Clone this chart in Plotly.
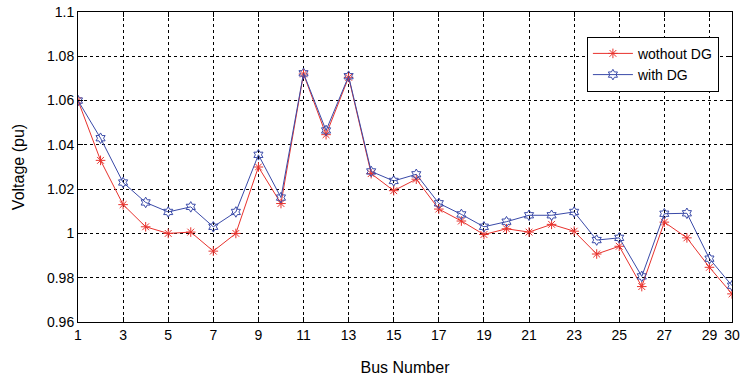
import plotly.graph_objects as go

bus = list(range(1, 31))
v_without_dg = [1.060, 1.033, 1.013, 1.003, 1.000, 1.0006, 0.992, 1.000, 1.030, 1.0135,
                1.072, 1.0446, 1.0705, 1.027, 1.0193, 1.0245, 1.011, 1.0056, 0.9995, 1.0021,
                1.0006, 1.0041, 1.0010, 0.9907, 0.9942, 0.976, 1.0051, 0.998, 0.9847, 0.9727]
v_with_dg = [1.060, 1.043, 1.023, 1.014, 1.0097, 1.012, 1.003, 1.0097, 1.0355, 1.0162,
             1.0723, 1.0465, 1.071, 1.028, 1.0237, 1.0267, 1.0136, 1.0086, 1.003, 1.0053,
             1.0082, 1.0082, 1.0097, 0.997, 0.998, 0.9806, 1.0089, 1.0091, 0.9886, 0.9764]
x_ticks = [1, 3, 5, 7, 9, 11, 13, 15, 17, 19, 21, 23, 25, 27, 29, 30]
y_ticks = [0.96, 0.98, 1.0, 1.02, 1.04, 1.06, 1.08, 1.1]
y_tick_text = ["0.96", "0.98", "1", "1.02", "1.04", "1.06", "1.08", "1.1"]

red = "#e8322d"
blue = "#3a4aa8"

fig = go.Figure()
fig.add_trace(go.Scatter(
    x=bus, y=v_without_dg, mode="lines+markers", name="wothout DG",
    line=dict(color=red, width=1),
    marker=dict(symbol="asterisk-open", size=8, color=red, line=dict(color=red, width=1)),
))
fig.add_trace(go.Scatter(
    x=bus, y=v_with_dg, mode="lines+markers", name="with DG",
    line=dict(color=blue, width=1),
    marker=dict(symbol="hexagram-open", size=8, color=blue, line=dict(color=blue, width=1)),
))

font = "Liberation Sans, Arial, Helvetica, sans-serif"
fig.update_layout(
    width=742, height=377,
    margin=dict(l=78, r=10, t=12, b=55),
    paper_bgcolor="white", plot_bgcolor="white",
    font=dict(family=font, size=14, color="black"),
    showlegend=True,
    legend=dict(
        x=0.98, y=0.92, xanchor="right", yanchor="top",
        bgcolor="white", bordercolor="black", borderwidth=1,
        font=dict(size=14), itemwidth=40, tracegroupgap=0,
    ),
    xaxis=dict(
        range=[1, 30], tickmode="array", tickvals=x_ticks,
        ticks="inside", ticklen=5, tickcolor="black",
        showline=True, linecolor="black", linewidth=1, mirror="ticks",
        showgrid=True, gridcolor="black", griddash="dot", gridwidth=1,
        zeroline=False, automargin=False, ticklabeloverflow="allow",
        title=dict(text="Bus Number", font=dict(size=16), standoff=20),
        tickfont=dict(size=14),
    ),
    yaxis=dict(
        range=[0.96, 1.1], tickmode="array", tickvals=y_ticks, ticktext=y_tick_text,
        ticks="inside", ticklen=5, tickcolor="black",
        showline=True, linecolor="black", linewidth=1, mirror="ticks",
        showgrid=True, gridcolor="black", griddash="dot", gridwidth=1,
        zeroline=False, automargin=False, ticklabeloverflow="allow",
        title=dict(text="Voltage (pu)", font=dict(size=16), standoff=18),
        tickfont=dict(size=14),
    ),
)

fig.write_html("out.html", config={"displayModeBar": False},
               post_script="document.body.style.margin='0';")
